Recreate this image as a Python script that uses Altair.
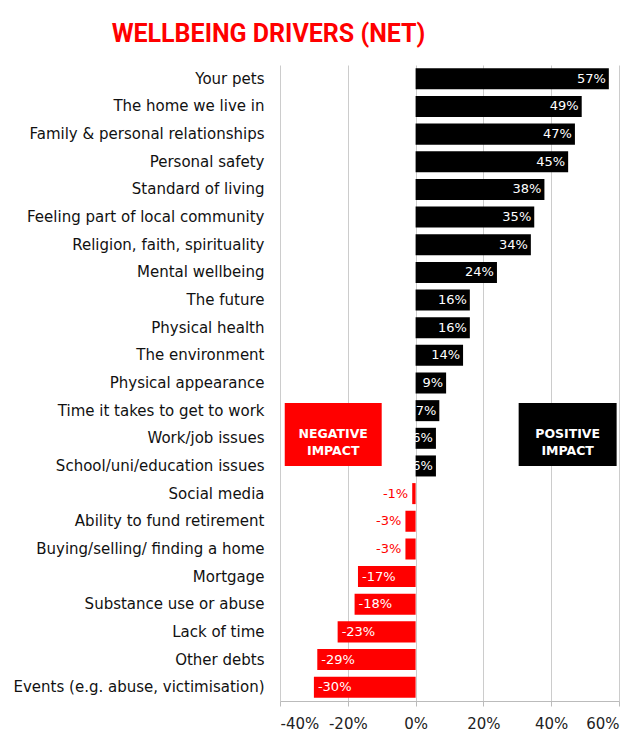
import altair as alt
import pandas as pd

categories = [
    "Your pets", "The home we live in", "Family & personal relationships",
    "Personal safety", "Standard of living", "Feeling part of local community",
    "Religion, faith, spirituality", "Mental wellbeing", "The future",
    "Physical health", "The environment", "Physical appearance",
    "Time it takes to get to work", "Work/job issues", "School/uni/education issues",
    "Social media", "Ability to fund retirement", "Buying/selling/ finding a home",
    "Mortgage", "Substance use or abuse", "Lack of time", "Other debts",
    "Events (e.g. abuse, victimisation)",
]
values = [57, 49, 47, 45, 38, 35, 34, 24, 16, 16, 14, 9, 7, 6, 6,
          -1, -3, -3, -17, -18, -23, -29, -30]

df = pd.DataFrame({"cat": categories, "val": values})
df["lab"] = [f"{v}%" for v in values]

annot_labels = ["NEGATIVE\nIMPACT", "POSITIVE\nIMPACT"]
annot_x = [-38.6, 30.4]
annot_x2 = [-10.0, 59.3]
annot_col = ["#ff0000", "#000000"]
ann = pd.DataFrame({"t": annot_labels, "x": annot_x, "x2": annot_x2, "c": annot_col})
ann["xm"] = (ann["x"] + ann["x2"]) / 2

FONT = "DejaVu Sans"

xscale = alt.Scale(domain=[-40, 60])
yenc = alt.Y("cat:N", sort=categories, title=None,
             scale=alt.Scale(paddingInner=0.24, paddingOuter=0.12),
             axis=alt.Axis(labelFont=FONT, labelFontSize=15, labelColor="#111111",
                           ticks=False, domain=False, labelPadding=16, labelLimit=400))

base = alt.Chart(df)

bars = base.mark_bar().encode(
    x=alt.X("val:Q", scale=xscale, title=None,
            axis=alt.Axis(values=[-40, -20, 0, 20, 40, 60], labelExpr="datum.value + '%'",
                          labelFont=FONT, labelFontSize=15, labelColor="#222222",
                          grid=True, gridColor="#cccccc", domainColor="#bbbbbb",
                          tickColor="#bbbbbb", tickSize=5, labelPadding=10)),
    y=yenc,
    color=alt.condition("datum.val >= 0", alt.value("#000000"), alt.value("#ff0000")),
)

pos_text = base.transform_filter("datum.val >= 0").mark_text(
    align="right", dx=-3, font=FONT, fontSize=13, color="white"
).encode(x="val:Q", y=alt.Y("cat:N", sort=categories), text="lab:N")

neg_in = base.transform_filter("datum.val <= -10").mark_text(
    align="left", dx=4, font=FONT, fontSize=13, color="white"
).encode(x="val:Q", y=alt.Y("cat:N", sort=categories), text="lab:N")

neg_out = base.transform_filter("datum.val < 0 && datum.val > -10").mark_text(
    align="right", dx=-4, font=FONT, fontSize=13, color="#ff0000"
).encode(x="val:Q", y=alt.Y("cat:N", sort=categories), text="lab:N")

abase = alt.Chart(ann)
boxes = abase.mark_rect().encode(
    x="x:Q", x2="x2:Q", y=alt.value(338), y2=alt.value(401),
    color=alt.Color("c:N", scale=None),
)
btext = abase.mark_text(
    lineBreak="\n", font=FONT, fontSize=12.5, fontWeight="bold", color="white",
    lineHeight=17, baseline="middle"
).encode(x="xm:Q", y=alt.value(369), text="t:N")

chart = alt.layer(bars, pos_text, neg_in, neg_out, boxes, btext).properties(
    width=339, height=636,
    padding={"top": 14, "left": 5, "right": 5, "bottom": 0},
    title=alt.TitleParams("WELLBEING DRIVERS (NET)", color="#ff0000",
                          font="Roboto", fontSize=25, fontWeight="bold",
                          anchor="middle", dx=-181, offset=18),
).configure_view(stroke=None)

chart.save("out.html", embed_options={"renderer": "svg", "actions": False})
